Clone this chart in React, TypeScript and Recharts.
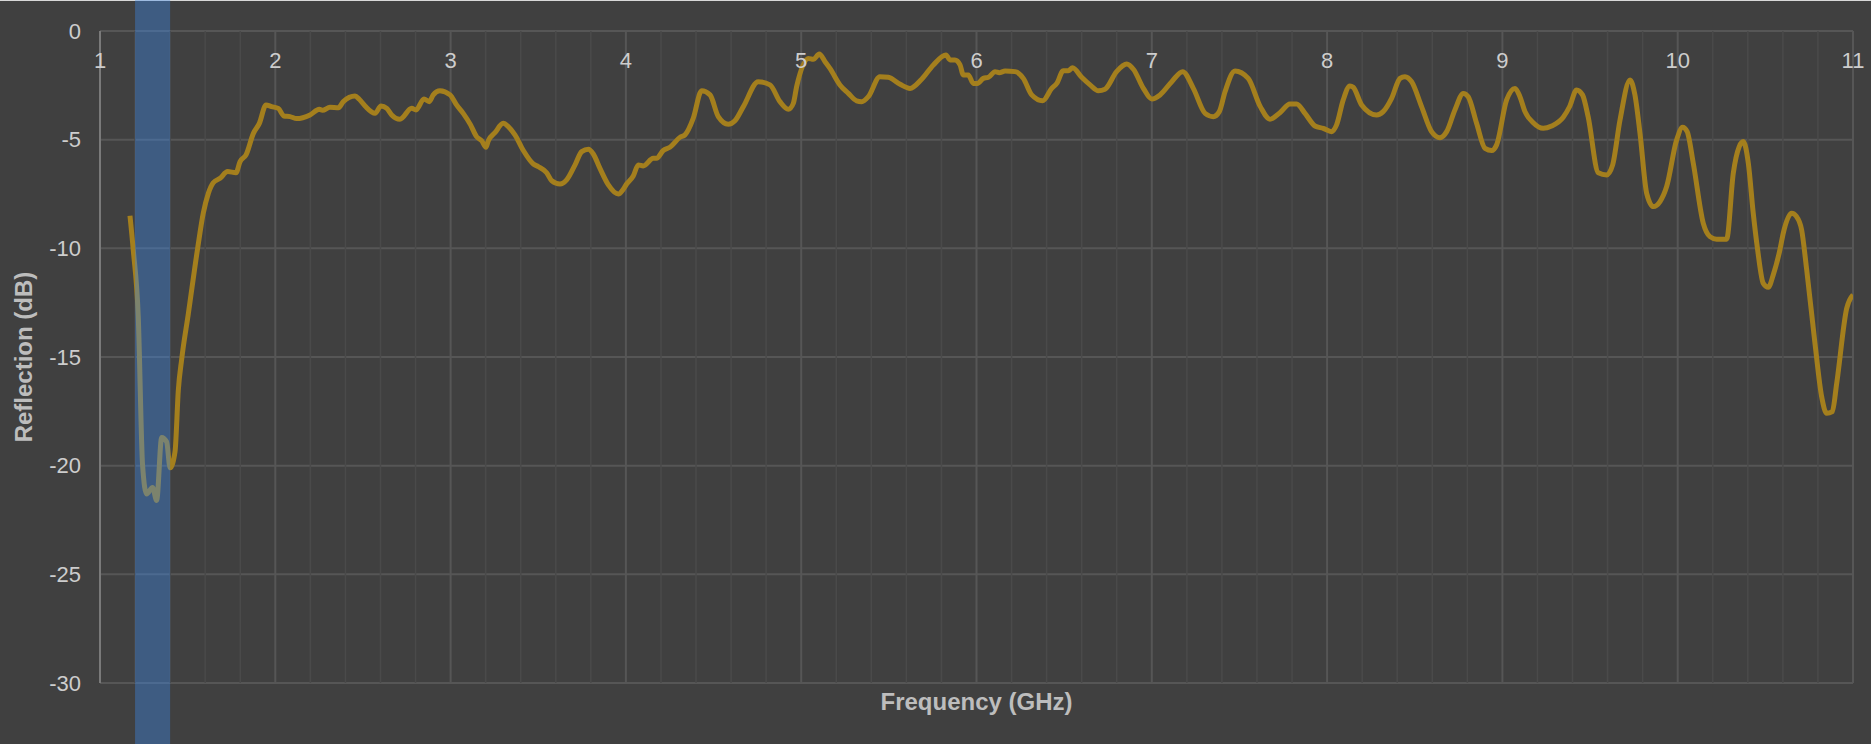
import React from 'react';
import {
  LineChart,
  Line,
  XAxis,
  YAxis,
  CartesianGrid,
  ReferenceLine,
  ReferenceArea,
} from 'recharts';

// ---------- data ----------
const freqGHz = [
  1.171, 1.19, 1.218, 1.243, 1.266, 1.3, 1.323, 1.352, 1.38, 1.4, 1.428, 1.447, 1.466, 1.504, 1.557, 1.589,
  1.618, 1.646, 1.685, 1.728, 1.776, 1.799, 1.833, 1.875, 1.909, 1.947, 1.979, 2.017, 2.049, 2.084, 2.122,
  2.198, 2.251, 2.269, 2.312, 2.36, 2.388, 2.455, 2.479, 2.512, 2.569, 2.603, 2.636, 2.664, 2.711, 2.778,
  2.803, 2.848, 2.878, 2.901, 2.939, 2.997, 3.034, 3.072, 3.114, 3.148, 3.177, 3.202, 3.215, 3.253, 3.3,
  3.329, 3.367, 3.415, 3.472, 3.5, 3.548, 3.577, 3.624, 3.662, 3.71, 3.748, 3.786, 3.814, 3.852, 3.9,
  3.957, 3.985, 4.004, 4.042, 4.071, 4.099, 4.156, 4.175, 4.213, 4.251, 4.309, 4.337, 4.384, 4.432, 4.48,
  4.527, 4.584, 4.622, 4.67, 4.755, 4.822, 4.879, 4.927, 4.955, 4.974, 5.041, 5.069, 5.103, 5.136, 5.164,
  5.221, 5.269, 5.316, 5.345, 5.383, 5.449, 5.497, 5.564, 5.621, 5.687, 5.754, 5.826, 5.849, 5.877, 5.906,
  5.925, 5.953, 5.982, 6.005, 6.039, 6.068, 6.106, 6.13, 6.163, 6.22, 6.267, 6.315, 6.377, 6.429, 6.458,
  6.495, 6.524, 6.548, 6.6, 6.648, 6.695, 6.733, 6.799, 6.857, 6.895, 6.952, 7.0, 7.047, 7.114, 7.176,
  7.237, 7.304, 7.351, 7.385, 7.418, 7.475, 7.55, 7.619, 7.674, 7.731, 7.788, 7.826, 7.874, 7.931, 7.978,
  8.026, 8.054, 8.092, 8.13, 8.149, 8.197, 8.282, 8.32, 8.368, 8.416, 8.444, 8.482, 8.539, 8.596, 8.644,
  8.682, 8.729, 8.777, 8.805, 8.853, 8.901, 8.939, 8.967, 9.024, 9.072, 9.1, 9.129, 9.176, 9.233, 9.281,
  9.347, 9.385, 9.423, 9.457, 9.489, 9.547, 9.595, 9.629, 9.671, 9.728, 9.756, 9.785, 9.823, 9.861, 9.899,
  9.937, 9.994, 10.028, 10.054, 10.089, 10.146, 10.184, 10.222, 10.279, 10.317, 10.351, 10.374, 10.403,
  10.431, 10.456, 10.488, 10.517, 10.545, 10.583, 10.602, 10.65, 10.678, 10.707, 10.736, 10.783, 10.821,
  10.85, 10.882, 10.907, 10.964, 11.0,
];

const reflectionDb = [
  -8.5, -10.1, -13.1, -20.0, -21.3, -21.0, -21.6, -18.7, -18.9, -20.1, -19.35, -16.5, -15.1, -13.0, -10.0, -8.39,
  -7.47, -6.98, -6.78, -6.47, -6.52, -6.01, -5.7, -4.71, -4.25, -3.4, -3.48, -3.56, -3.91, -3.94, -4.03,
  -3.86, -3.6, -3.65, -3.51, -3.53, -3.25, -2.99, -3.14, -3.45, -3.79, -3.45, -3.56, -3.86, -4.06, -3.56,
  -3.63, -3.13, -3.25, -2.94, -2.75, -2.94, -3.4, -3.79, -4.32, -4.86, -5.05, -5.35, -5.05, -4.68, -4.25,
  -4.4, -4.78, -5.5, -6.12, -6.24, -6.52, -6.89, -7.04, -6.85, -6.16, -5.55, -5.44, -5.66, -6.32, -7.08,
  -7.5, -7.28, -7.04, -6.67, -6.16, -6.21, -5.86, -5.86, -5.5, -5.35, -4.89, -4.78, -4.02, -2.75, -2.94,
  -3.94, -4.29, -4.13, -3.48, -2.33, -2.48, -3.25, -3.6, -3.33, -2.56, -1.26, -1.3, -1.06, -1.41, -1.72,
  -2.48, -2.87, -3.21, -3.25, -3.02, -2.1, -2.13, -2.45, -2.64, -2.22, -1.56, -1.1, -1.33, -1.33, -1.56,
  -2.02, -2.02, -2.41, -2.41, -2.18, -2.13, -1.87, -1.92, -1.84, -1.87, -2.18, -2.94, -3.21, -2.64, -2.41,
  -1.83, -1.83, -1.69, -2.13, -2.48, -2.75, -2.68, -1.87, -1.52, -1.76, -2.64, -3.13, -2.94, -2.33, -1.87,
  -2.64, -3.79, -3.94, -3.71, -2.79, -1.84, -2.18, -3.48, -4.06, -3.76, -3.36, -3.36, -3.79, -4.37, -4.48,
  -4.63, -4.32, -3.17, -2.53, -2.59, -3.4, -3.86, -3.71, -3.1, -2.18, -2.1, -2.33, -3.48, -4.63, -4.91,
  -4.63, -3.63, -2.87, -3.02, -4.25, -5.4, -5.5, -5.24, -3.17, -2.64, -3.02, -3.71, -4.22, -4.48, -4.37,
  -3.97, -3.45, -2.71, -2.94, -3.94, -6.52, -6.62, -6.16, -4.09, -2.25, -2.94, -4.71, -7.47, -8.08, -7.85,
  -7.16, -5.01, -4.43, -4.63, -6.09, -8.85, -9.46, -9.58, -9.58, -6.55, -5.32, -5.09, -6.09,
  -8.39, -10.07, -11.61, -11.79, -11.22, -10.07, -9.31, -8.39, -8.54, -9.15, -11.0, -14.37, -16.82,
  -17.59, -17.51, -16.21, -12.76, -12.14,
];

const xTicks = [1, 2, 3, 4, 5, 6, 7, 8, 9, 10, 11];
const xMinorTicks = [
  1.2, 1.4, 1.6, 1.8, 2.2, 2.4, 2.6, 2.8, 3.2, 3.4, 3.6, 3.8, 4.2, 4.4, 4.6, 4.8, 5.2, 5.4, 5.6, 5.8,
  6.2, 6.4, 6.6, 6.8, 7.2, 7.4, 7.6, 7.8, 8.2, 8.4, 8.6, 8.8, 9.2, 9.4, 9.6, 9.8, 10.2, 10.4, 10.6, 10.8,
];
const yTicks = [-30, -25, -20, -15, -10, -5, 0];

// highlighted band (GHz) and its vertical extent (dB, reaches past the plot to the page edges)
const bandStartGHz = 1.2;
const bandEndGHz = 1.4;
const bandTopDb = 1.5;
const bandBottomDb = -33;

const data = freqGHz.map((f, i) => ({ f, r: reflectionDb[i] }));

// ---------- style ----------
const W = 1871;
const H = 744;
const BG = '#404040';
const FONT = '"Liberation Sans", Arial, Helvetica, sans-serif';
const TICK_COLOR = '#cdcdcd';
const TITLE_COLOR = '#bdbdbd';
const TICK_FONT = 22;

export default function App() {
  return (
    <div
      style={{
        position: 'absolute',
        left: 0,
        top: 0,
        width: W,
        height: H,
        background: BG,
        overflow: 'hidden',
        fontFamily: FONT,
      }}
    >
      <div
        style={{ position: 'absolute', left: 0, top: 0, width: W, height: 1, background: '#d8d8d8' }}
      />
      <div style={{ position: 'absolute', left: 0, top: 0 }}>
        <LineChart
          width={W}
          height={H}
          data={data}
          margin={{ top: 31, right: 18, bottom: 0, left: 0 }}
        >
          <CartesianGrid
            xAxisId="top"
            yAxisId="y"
            stroke="#565656"
            strokeWidth={2}
            vertical={false}
          />
          {xMinorTicks.map((v) => (
            <ReferenceLine
              key={'m' + v}
              xAxisId="top"
              yAxisId="y"
              x={v}
              stroke="#4a4a4a"
              strokeWidth={1.5}
            />
          ))}
          {xTicks.map((v) => (
            <ReferenceLine
              key={'M' + v}
              xAxisId="top"
              yAxisId="y"
              x={v}
              stroke="#565656"
              strokeWidth={2}
              label={{
                value: String(v),
                position: 'insideTop',
                offset: 21,
                fill: TICK_COLOR,
                fontSize: TICK_FONT,
                fontFamily: FONT,
              }}
            />
          ))}
          <XAxis
            xAxisId="top"
            orientation="top"
            type="number"
            dataKey="f"
            domain={[1, 11]}
            ticks={xTicks}
            height={0}
            axisLine={false}
            tickLine={false}
            tick={false}
            allowDataOverflow
          />
          <XAxis
            xAxisId="bottom"
            orientation="bottom"
            type="number"
            dataKey="f"
            domain={[1, 11]}
            height={61}
            axisLine={false}
            tickLine={false}
            tick={false}
            label={{
              value: 'Frequency (GHz)',
              position: 'insideBottom',
              offset: 34,
              fill: TITLE_COLOR,
              fontSize: 24,
              fontWeight: 'bold',
              fontFamily: FONT,
            }}
            allowDataOverflow
          />
          <YAxis
            yAxisId="y"
            type="number"
            domain={[-30, 0]}
            ticks={yTicks}
            width={100}
            axisLine={{ stroke: '#7a7a7a', strokeWidth: 2 }}
            tickLine={false}
            tickMargin={13}
            tick={{ fill: TICK_COLOR, fontSize: TICK_FONT, fontFamily: FONT }}
            interval={0}
            label={{
              value: 'Reflection (dB)',
              angle: -90,
              position: 'insideLeft',
              offset: 23,
              fill: TITLE_COLOR,
              fontSize: 24,
              fontWeight: 'bold',
              fontFamily: FONT,
              style: { textAnchor: 'middle' },
            }}
            allowDataOverflow
          />
          <Line
            xAxisId="top"
            yAxisId="y"
            type="monotone"
            dataKey="r"
            stroke="#a47f1d"
            strokeWidth={5}
            dot={false}
            activeDot={false}
            isAnimationActive={false}
          />
          <ReferenceArea
            xAxisId="top"
            yAxisId="y"
            x1={bandStartGHz}
            x2={bandEndGHz}
            y1={bandTopDb}
            y2={bandBottomDb}
            fill="#3d8cf0"
            fillOpacity={0.38}
            stroke="none"
            ifOverflow="visible"
            {...({ zIndex: 2000 } as any)}
          />
        </LineChart>
      </div>
    </div>
  );
}
